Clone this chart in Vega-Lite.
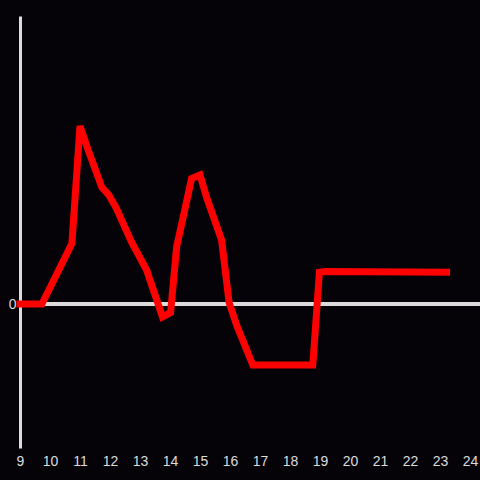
{
  "$schema": "https://vega.github.io/schema/vega-lite/v6.json",
  "width": 460,
  "height": 432,
  "autosize": {"type": "none"},
  "padding": {"left": 20, "top": 16, "right": 0, "bottom": 32},
  "background": "#050307",
  "config": {
    "view": {"stroke": null},
    "axis": {"labelFont": "Liberation Sans", "labelFontSize": 14, "labelColor": "#dcdcdc", "grid": false, "title": null}
  },
  "data": {
    "values": [
      {"t": 9.0, "v": 0},
      {"t": 9.73, "v": 0},
      {"t": 10.73, "v": 0.42},
      {"t": 11.0, "v": 1.236},
      {"t": 11.27, "v": 1.07},
      {"t": 11.73, "v": 0.81},
      {"t": 11.95, "v": 0.76},
      {"t": 12.2, "v": 0.67},
      {"t": 12.72, "v": 0.43},
      {"t": 13.22, "v": 0.236},
      {"t": 13.75, "v": -0.09},
      {"t": 14.02, "v": -0.06},
      {"t": 14.22, "v": 0.395},
      {"t": 14.72, "v": 0.872},
      {"t": 15.0, "v": 0.896},
      {"t": 15.22, "v": 0.74},
      {"t": 15.72, "v": 0.444},
      {"t": 15.97, "v": 0.01},
      {"t": 16.22, "v": -0.146},
      {"t": 16.76, "v": -0.424},
      {"t": 18.76, "v": -0.424},
      {"t": 18.98, "v": 0.22},
      {"t": 19.17, "v": 0.225},
      {"t": 23.22, "v": 0.22}
    ]
  },
  "layer": [
    {
      "mark": {"type": "rule", "color": "#dcdcdc", "strokeWidth": 3},
      "encoding": {"y": {"datum": 0}}
    },
    {
      "mark": {"type": "line", "color": "#ff0000", "strokeWidth": 7, "strokeJoin": "miter", "strokeCap": "square"},
      "encoding": {
        "x": {
          "field": "t", "type": "quantitative",
          "scale": {"domain": [9, 24.3333], "nice": false, "zero": false},
          "axis": {"values": [9,10,11,12,13,14,15,16,17,18,19,20,21,22,23,24], "format": "d", "domain": false, "ticks": false, "labelPadding": 6, "labelFlush": false, "labelOverlap": false}
        },
        "y": {
          "field": "v", "type": "quantitative",
          "scale": {"domain": [-1, 2], "nice": false, "zero": false},
          "axis": {"values": [0], "format": "d", "domain": true, "domainColor": "#dcdcdc", "domainWidth": 3, "ticks": false, "labelPadding": 4}
        }
      }
    }
  ]
}
